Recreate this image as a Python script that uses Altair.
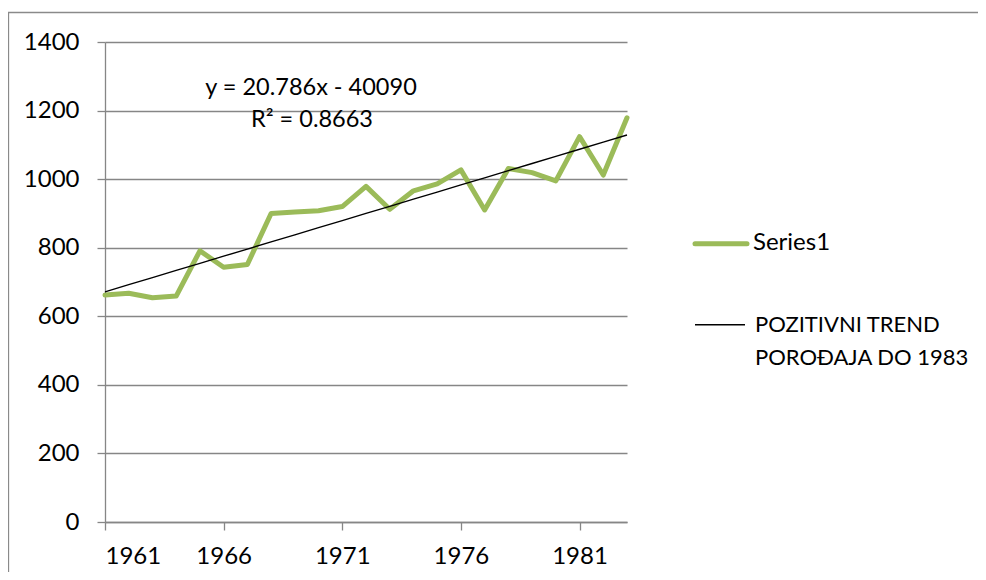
import altair as alt
import pandas as pd

years = list(range(1961, 1984))
births = [662, 667, 654, 659, 791, 743, 751, 900, 904, 908, 920, 979, 912,
          966, 986, 1027, 910, 1031, 1019, 995, 1124, 1012, 1179]
trend_slope = 20.786
trend_intercept = -40090
equation_lines = ["y = 20.786x - 40090", "R² = 0.8663"]
legend_labels = ["Series1", "POZITIVNI TREND\nPOROĐAJA DO 1983"]
x_ticks = [1961, 1966, 1971, 1976, 1981]
y_ticks = [0, 200, 400, 600, 800, 1000, 1200, 1400]

df = pd.DataFrame({"year": years, "value": births})
df["trend"] = [trend_slope * y + trend_intercept for y in years]

FONT = "Lato"
GRAY = "#868686"
GREEN = "#9BBB59"

x_enc = alt.X("year:Q", scale=alt.Scale(domain=[1961, 1983], nice=False, zero=False),
              axis=alt.Axis(values=x_ticks, format="d", title=None, grid=False,
                            tickSize=8, labelPadding=14, domainColor=GRAY, tickColor=GRAY,
                            domainWidth=1.3, tickWidth=1.3))
y_enc = alt.Y("value:Q", scale=alt.Scale(domain=[0, 1400], nice=False),
              axis=alt.Axis(values=y_ticks, format="d", title=None, grid=True, gridColor=GRAY,
                            gridWidth=1.3, tickSize=8, labelPadding=18, domainColor=GRAY,
                            tickColor=GRAY, domainWidth=1.3, tickWidth=1.3))

base = alt.Chart(df)

series = base.mark_line(color=GREEN, strokeWidth=5, strokeJoin="round", strokeCap="round").encode(
    x=x_enc, y=y_enc)
trend = base.mark_line(color="black", strokeWidth=1.4).encode(x="year:Q", y="trend:Q")

# outer chart frame
frame = alt.Chart(pd.DataFrame({"k": [0]})).mark_rect(
    fill=None, stroke="#8a8a8a", strokeWidth=1.3).encode(
    x=alt.value(-96.5), x2=alt.value(1000), y=alt.value(-29.5), y2=alt.value(700))

eq1 = alt.Chart(pd.DataFrame({"t": [equation_lines[0]]})).mark_text(
    font=FONT, fontSize=23.5, align="center", baseline="middle", color="black").encode(
    x=alt.value(206), y=alt.value(46), text="t:N")
eq2 = alt.Chart(pd.DataFrame({"t": [equation_lines[1]]})).mark_text(
    font=FONT, fontSize=23.5, align="center", baseline="middle", color="black").encode(
    x=alt.value(207), y=alt.value(78), text="t:N")

leg_g = alt.Chart(pd.DataFrame({"k": [0]})).mark_rule(
    color=GREEN, strokeWidth=5, strokeCap="round").encode(
    x=alt.value(590), x2=alt.value(642), y=alt.value(201.7))
leg_b = alt.Chart(pd.DataFrame({"k": [0]})).mark_rule(
    color="black", strokeWidth=1.4).encode(
    x=alt.value(590), x2=alt.value(640), y=alt.value(282.7))
leg_t1 = alt.Chart(pd.DataFrame({"t": [legend_labels[0]]})).mark_text(
    font=FONT, fontSize=24, align="left", baseline="middle", color="black").encode(
    x=alt.value(648), y=alt.value(201), text="t:N")
leg_t2 = alt.Chart(pd.DataFrame({"t": [legend_labels[1]]})).mark_text(
    font=FONT, fontSize=22, align="left", baseline="middle", color="black",
    lineBreak="\n", lineHeight=33).encode(
    x=alt.value(650), y=alt.value(282.5), text="t:N")

chart = alt.layer(frame, series, trend, eq1, eq2, leg_g, leg_b, leg_t1, leg_t2).properties(
    width=522, height=480,
    autosize=alt.AutoSizeParams(type="none"),
    padding={"left": 97, "top": 34, "right": 351, "bottom": 50},
).configure_view(stroke=None).configure_axis(
    labelFont=FONT, labelFontSize=24, labelColor="black")

chart.save("out.html", embed_options={"renderer": "svg", "actions": False})
